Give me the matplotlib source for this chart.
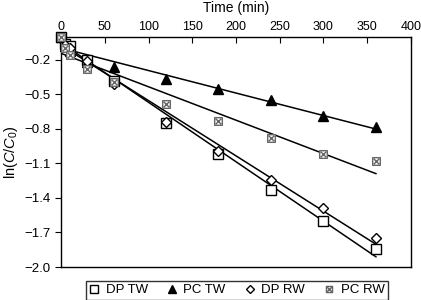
import numpy as np
import matplotlib
matplotlib.use('Agg')
import matplotlib.pyplot as plt
from matplotlib.path import Path

plt.rcParams['font.family'] = ['Liberation Sans', 'DejaVu Sans']
plt.rcParams['mathtext.fontset'] = 'custom'
plt.rcParams['mathtext.rm'] = 'Liberation Sans'
plt.rcParams['mathtext.it'] = 'Liberation Sans:italic'

# data
time_min = [0, 5, 10, 30, 60, 120, 180, 240, 300, 360]
dp_tw = [0.0, -0.06, -0.08, -0.20, -0.38, -0.75, -1.02, -1.33, -1.60, -1.84]
pc_tw = [0.0, -0.08, -0.12, -0.22, -0.26, -0.37, -0.45, -0.55, -0.69, -0.78]
dp_rw = [0.0, -0.07, -0.10, -0.21, -0.41, -0.74, -0.99, -1.24, -1.49, -1.75]
pc_rw = [0.0, -0.10, -0.16, -0.28, -0.39, -0.58, -0.73, -0.88, -1.02, -1.08]

labels = ['DP TW', 'PC TW', 'DP RW', 'PC RW']
yticks = [-0.2, -0.5, -0.8, -1.1, -1.4, -1.7, -2.0]
xticks = [0, 50, 100, 150, 200, 250, 300, 350, 400]

# square with a cross inside
boxx = Path([(-1, -1), (1, -1), (1, 1), (-1, 1), (-1, -1),
             (-0.7, -0.7), (0.7, 0.7), (-0.7, 0.7), (0.7, -0.7)],
            [Path.MOVETO, Path.LINETO, Path.LINETO, Path.LINETO, Path.CLOSEPOLY,
             Path.MOVETO, Path.LINETO, Path.MOVETO, Path.LINETO])

fig = plt.figure(figsize=(4.21, 3.0), dpi=100)
ax = fig.add_axes([0.145, 0.11, 0.831, 0.767])

styles = [
    dict(marker='s', ms=7, mfc='white', mec='black', mew=1.0),
    dict(marker='^', ms=7, mfc='black', mec='black', mew=1.0),
    dict(marker='D', ms=5.2, mfc='white', mec='black', mew=1.0),
    dict(marker=boxx, ms=5.5, mfc='white', mec='#666666', mew=1.0),
]

t = np.array(time_min)
for ys, lab, st in zip([dp_tw, pc_tw, dp_rw, pc_rw], labels, styles):
    k, b = np.polyfit(t, ys, 1)
    tt = np.array([0, 360])
    ax.plot(tt, k * tt + b, color='black', lw=1.1, zorder=1)
    ax.plot(t, ys, linestyle='none', label=lab, zorder=3, clip_on=False, **st)

ax.set_xlim(0, 400)
ax.set_ylim(-2.0, 0.0)
ax.set_xticks(xticks)
ax.set_yticks(yticks)
ax.set_yticklabels(['\u22120.2', '\u22120.5', '\u22120.8', '\u22121.1',
                    '\u22121.4', '\u22121.7', '\u22122.0'])
ax.xaxis.tick_top()
ax.xaxis.set_label_position('top')
ax.tick_params(axis='x', direction='in', length=4, labelsize=9, pad=3)
ax.tick_params(axis='y', direction='out', length=4, labelsize=9.5)
ax.set_xlabel('Time (min)', fontsize=10, labelpad=6)
ax.set_ylabel(r'ln($\mathit{C}$/$\mathit{C}_0$)', fontsize=10.5, labelpad=3)
for s in ax.spines.values():
    s.set_linewidth(1.0)

leg = fig.legend(loc='center', bbox_to_anchor=(0.563, 0.033), ncol=4,
                 frameon=True, fancybox=False, edgecolor='black',
                 fontsize=9.5, handlelength=0.7, handletextpad=0.5,
                 columnspacing=1.5, borderpad=0.25, markerscale=0.8,
                 borderaxespad=0)
leg.get_frame().set_linewidth(1.0)

fig.savefig('out.png', dpi=100)
